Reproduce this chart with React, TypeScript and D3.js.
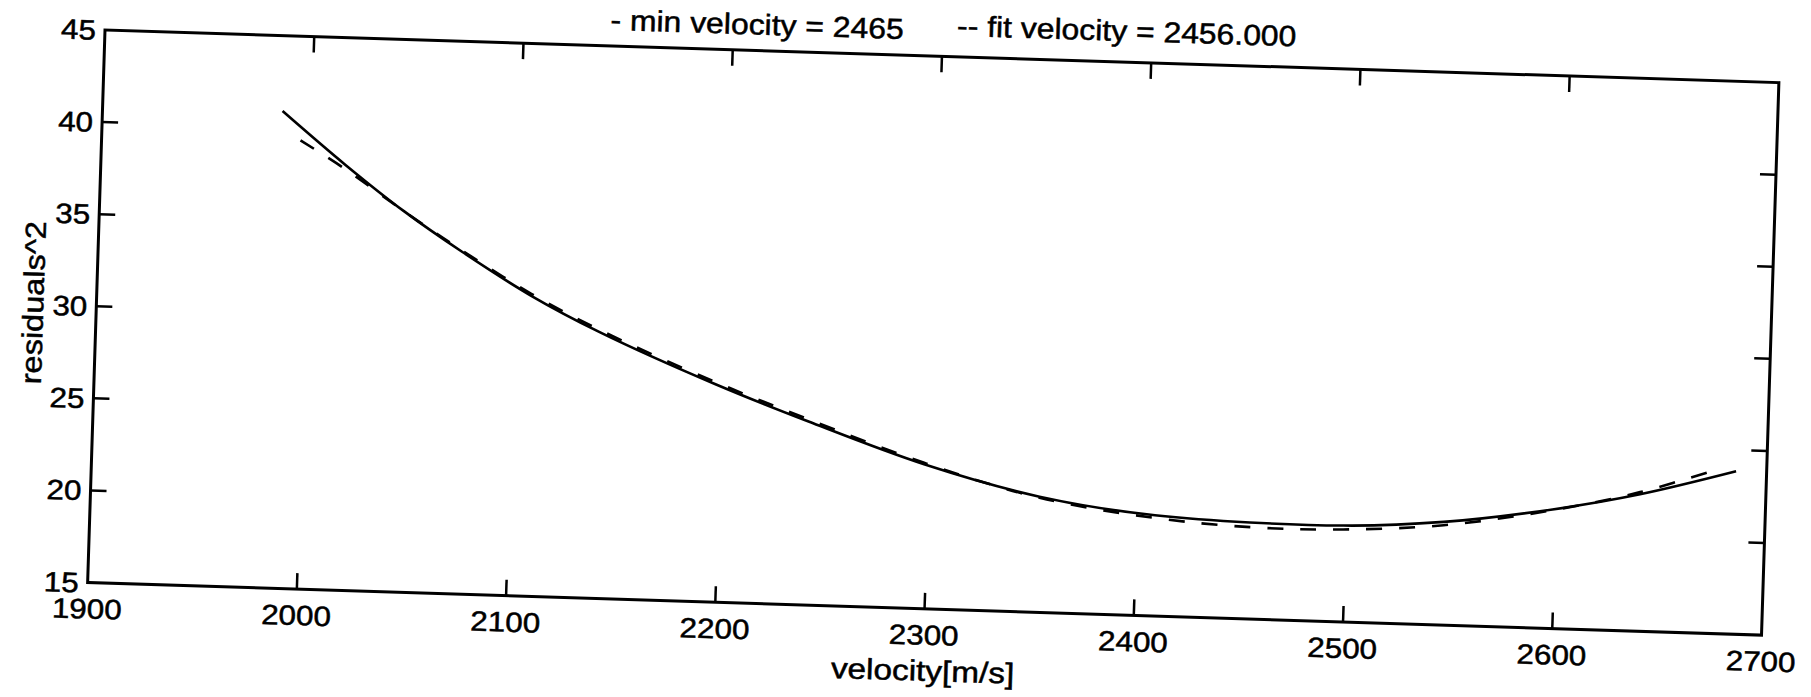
import React from "react";
import * as d3 from "d3";

// ---- data ----
const xTicks = [1900, 2000, 2100, 2200, 2300, 2400, 2500, 2600, 2700];
const yTicks = [15, 20, 25, 30, 35, 40, 45];

const minVelX = [1986, 2017, 2045.6, 2073.8, 2107.5, 2141.2, 2197.1, 2241.8, 2297.6, 2353.2, 2408.6, 2498.7, 2546.6, 2598.3, 2639.9, 2685.4];
const minVelY = [40.91, 38.08, 35.67, 33.58, 31.31, 29.43, 26.81, 24.96, 22.84, 21.28, 20.47, 20.23, 20.6, 21.46, 22.43, 23.84];

const fitVelX = [1995, 2017, 2045.6, 2073.8, 2107.5, 2141.2, 2197.1, 2241.8, 2297.6, 2353.2, 2408.6, 2456, 2498.7, 2546.6, 2598.3, 2639.9, 2678];
const fitVelY = [39.35, 37.85, 35.67, 33.65, 31.42, 29.55, 26.93, 25.08, 22.92, 21.22, 20.32, 19.98, 20.02, 20.42, 21.42, 22.55, 23.98];

const titleLeft = "- min velocity = 2465";
const titleRight = "-- fit velocity = 2456.000";
const xLabel = "velocity[m/s]";
const yLabel = "residuals^2";

// ---- layout ----
const W = 1674.7;
const H = 552.8;
const FONT = "'Liberation Sans', Arial, Helvetica, sans-serif";

export default function App() {
  const x = d3.scaleLinear().domain([1900, 2700]).range([0, W]);
  const y = d3.scaleLinear().domain([15, 45]).range([H, 0]);

  const line = d3
    .line<[number, number]>()
    .x((d) => x(d[0]))
    .y((d) => y(d[1]))
    .curve(d3.curveCatmullRom.alpha(0.5));

  const solid = line(minVelX.map((v, i) => [v, minVelY[i]] as [number, number])) || "";
  const dashed = line(fitVelX.map((v, i) => [v, fitVelY[i]] as [number, number])) || "";

  const tickLen = 16;
  const innerX = xTicks.slice(1, -1);
  const innerY = yTicks.slice(1, -1);
  const sx = 1.12;
  const textStroke = { stroke: "#000", strokeWidth: 0.5 };

  return (
    <svg
      width={1811}
      height={697}
      style={{ position: "absolute", left: 0, top: 0, background: "#fff" }}
      fontFamily={FONT}
    >
      <rect x={0} y={0} width={1811} height={697} fill="#fff" />
      <g transform="translate(105,30) rotate(1.8)">
        {/* frame */}
        <rect x={0} y={0} width={W} height={H} fill="none" stroke="#000" strokeWidth={3} />
        {/* x ticks bottom & top */}
        {innerX.map((t) => (
          <g key={"xt" + t}>
            <line x1={x(t)} x2={x(t)} y1={H} y2={H - tickLen} stroke="#000" strokeWidth={2.5} />
            <line x1={x(t)} x2={x(t)} y1={0} y2={tickLen} stroke="#000" strokeWidth={2.5} />
          </g>
        ))}
        {/* y ticks left & right */}
        {innerY.map((t) => (
          <g key={"yt" + t}>
            <line x1={0} x2={tickLen} y1={y(t)} y2={y(t)} stroke="#000" strokeWidth={2.5} />
            <line x1={W} x2={W - tickLen} y1={y(t)} y2={y(t)} stroke="#000" strokeWidth={2.5} />
          </g>
        ))}
        {/* x tick labels */}
        {xTicks.map((t) => (
          <text
            key={"xl" + t}
            transform={`translate(${x(t)},${H + 36}) scale(${sx},1)`}
            textAnchor="middle"
            fontSize={28}
            fill="#000"
            {...textStroke}
          >
            {t}
          </text>
        ))}
        {/* y tick labels */}
        {yTicks.map((t) => (
          <text
            key={"yl" + t}
            transform={`translate(-9,${y(t) + 10}) scale(${sx},1)`}
            textAnchor="end"
            fontSize={28}
            fill="#000"
            {...textStroke}
          >
            {t}
          </text>
        ))}
        {/* curves */}
        <path d={solid} fill="none" stroke="#000" strokeWidth={2.6} />
        <path d={dashed} fill="none" stroke="#000" strokeWidth={2.6} strokeDasharray="16 17" />
        {/* title */}
        <text transform={`translate(505,-16) scale(1.1,1)`} textAnchor="start" fontSize={29} fill="#000" {...textStroke}>
          {titleLeft}
        </text>
        <text transform={`translate(1191,-21) scale(1.1,1)`} textAnchor="end" fontSize={29} fill="#000" {...textStroke}>
          {titleRight}
        </text>
        {/* axis labels */}
        <text
          transform={`translate(${W / 2},${H + 72}) scale(1.15,1)`}
          textAnchor="middle"
          fontSize={29}
          fill="#000"
          {...textStroke}
        >
          {xLabel}
        </text>
        <text
          transform={`translate(-53,274.7) rotate(-90) scale(1.12,1)`}
          textAnchor="middle"
          fontSize={29}
          fill="#000"
          {...textStroke}
        >
          {yLabel}
        </text>
      </g>
    </svg>
  );
}
